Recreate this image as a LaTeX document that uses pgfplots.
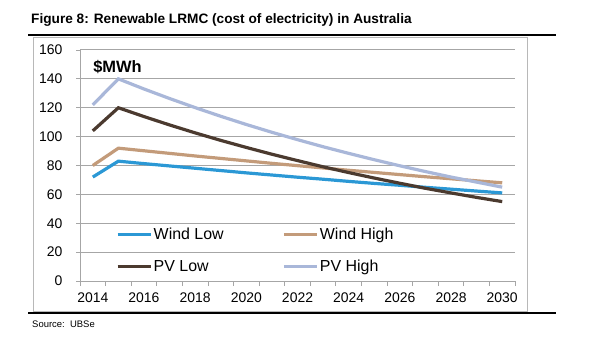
\documentclass[border=0pt]{standalone}
\usepackage{fontspec}
\setmainfont{Liberation Sans}
\usepackage{pgfplots}
\pgfplotsset{compat=1.18}
\definecolor{windlow}{RGB}{43,152,213}
\definecolor{windhigh}{RGB}{195,155,122}
\definecolor{pvlow}{RGB}{75,58,47}
\definecolor{pvhigh}{RGB}{169,183,217}
\definecolor{gridc}{RGB}{166,166,166}
\begin{document}
\begin{tikzpicture}[x=1bp,y=1bp]
\path[use as bounding box] (0,0) rectangle (590,337);
\node[anchor=base west, font=\fontsize{13.7}{15}\selectfont\bfseries, inner sep=0] at (31,314) {Figure 8: Renewable LRMC (cost of electricity) in Australia};
\draw[gridc!80, line width=0.8bp] (33,300) rectangle (527,26);
\draw[black, line width=1.6bp] (28,302) -- (556,302);
\draw[black, line width=1.6bp] (28,24) -- (556,24);
\node[anchor=base west, font=\fontsize{9.5}{11}\selectfont, inner sep=0] at (32,10) {Source:\ \ UBSe};
\begin{axis}[
  at={(80bp,56bp)}, anchor=south west, scale only axis,
  width=435bp, height=231bp,
  xmin=2013.5, xmax=2030.5, ymin=0, ymax=160,
  axis x line*=bottom, axis y line*=left,
  axis line style={gridc, line width=1bp},
  xtick={2014,2016,...,2030},
  major x tick style={draw=none},
  minor xtick={2013.5,2014.5,...,2030.5},
  minor x tick style={gridc, line width=0.8bp},
  minor tick length=5bp,
  ytick={0,20,...,160},
  major tick length=4bp,
  tick align=outside,
  y tick style={gridc, line width=0.8bp},
  ymajorgrids, grid style={gridc, line width=1bp},
  tick label style={font=\fontsize{14}{16}\selectfont},
  /pgf/number format/assume math mode=true,
  /pgf/number format/1000 sep={},
  yticklabel style={xshift=-10bp},
  xticklabel style={yshift=-4bp},
  legend columns=2,
  legend cell align=left,
  legend image code/.code={\draw[#1] (0bp,0bp) -- (33bp,0bp);},
  legend style={draw=none, fill=none, inner sep=0pt,
    at={(axis cs:2014.9,21)}, anchor=west,
    font=\fontsize{16}{19}\selectfont,
    nodes={inner sep=1.5bp},
    row sep=16bp,
    /tikz/every even column/.append style={column sep=57bp}},
  clip=false,
]
\addplot[windlow, line width=3.2bp] coordinates {
(2014,72) (2015,83) (2016,81.3) (2017,79.7) (2018,78.1) (2019,76.5) (2020,74.9) (2021,73.4) (2022,71.9) (2023,70.5) (2024,69.0) (2025,67.6) (2026,66.3) (2027,64.9) (2028,63.6) (2029,62.3) (2030,61.0)};
\addlegendentry{Wind Low}
\addplot[windhigh, line width=3.2bp] coordinates {
(2014,80) (2015,92) (2016,90.2) (2017,88.4) (2018,86.6) (2019,84.9) (2020,83.2) (2021,81.5) (2022,79.9) (2023,78.3) (2024,76.7) (2025,75.2) (2026,73.7) (2027,72.2) (2028,70.8) (2029,69.4) (2030,68.0)};
\addlegendentry{Wind High}
\addplot[pvlow, line width=3.2bp] coordinates {
(2014,104) (2015,120) (2016,113.9) (2017,108.1) (2018,102.6) (2019,97.4) (2020,92.5) (2021,87.8) (2022,83.4) (2023,79.1) (2024,75.1) (2025,71.3) (2026,67.7) (2027,64.2) (2028,61.0) (2029,57.9) (2030,55.0)};
\addlegendentry{PV Low}
\addplot[pvhigh, line width=3.2bp] coordinates {
(2014,122) (2015,140) (2016,133.0) (2017,126.4) (2018,120.1) (2019,114.1) (2020,108.4) (2021,103.0) (2022,97.9) (2023,93.0) (2024,88.4) (2025,84.0) (2026,79.8) (2027,75.8) (2028,72.0) (2029,68.5) (2030,65.0)};
\addlegendentry{PV High}
\node[anchor=west, font=\fontsize{16.5}{18}\selectfont\bfseries, inner sep=0] at (rel axis cs:0.03,0.925) {\$MWh};
\end{axis}
\end{tikzpicture}
\end{document}
